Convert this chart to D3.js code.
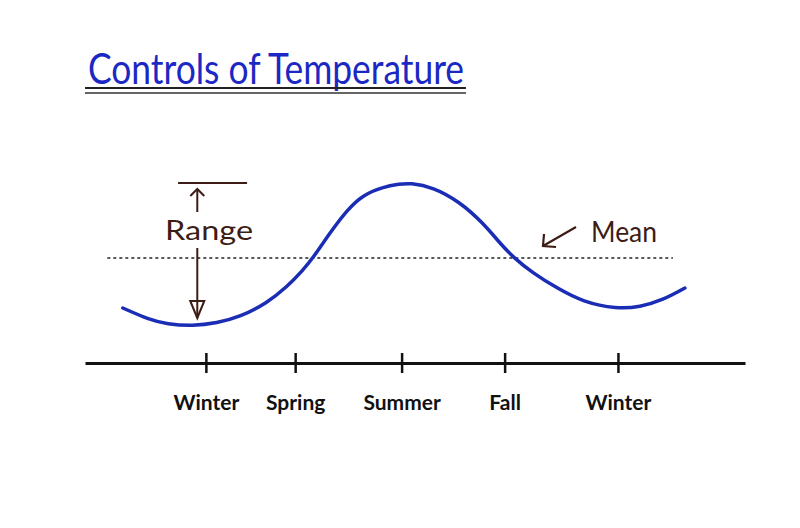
<!DOCTYPE html>
<html><head><meta charset="utf-8">
<script src="https://cdn.jsdelivr.net/npm/d3@7"></script>
<style>body{margin:0;background:#fff}svg{display:block}</style>
</head><body>
<svg id="c" width="800" height="528"></svg>
<script>
// ---- data ----
const seasons = ["Winter", "Spring", "Summer", "Fall", "Winter"];
const seasonMonths = [0, 2.6, 5.7, 8.7, 12];
const curveMonths = [-2.42,-1.63,-1.14,-0.38,0.32,0.99,1.78,2.36,2.83,3.12,3.61,4.11,4.57,5.15,5.65,5.94,6.61,7.40,8.07,8.56,8.94,9.52,10.22,10.98,11.97,12.64,13.31,13.95];
const curveTemps  = [25,19,17,16,17.5,20.5,27.5,35.5,44,50,62.5,74,81.5,85.5,87,87.5,85.5,78,67.5,57.5,50.5,42.5,35,28,24.5,25.5,29,35];
const meanTemp = 50;
const meanSpan = [-2.87, 13.6];
const rangeTop = 87.5, rangeBottom = 16;
const titleText = "Controls of Temperature";

const svg = d3.select("#c");
const x = d3.scaleLinear().domain([-3.52, 15.7]).range([85, 745]);
const y = d3.scaleLinear().domain([0, 100]).range([358, 158]);
const brown = "#3d1c16", blue = "#1a2db4";
const font = "Lato, 'Open Sans', sans-serif";

// title
svg.append("text").attr("x", 88).attr("y", 84)
  .attr("font-family", font).attr("font-size", 42)
  .attr("fill", "#1b28c4").attr("textLength", 376).attr("lengthAdjust", "spacingAndGlyphs")
  .text(titleText);
svg.append("line").attr("x1", 85).attr("x2", 466).attr("y1", 88).attr("y2", 88).attr("stroke", "#222").attr("stroke-width", 2);
svg.append("line").attr("x1", 85).attr("x2", 466).attr("y1", 93).attr("y2", 93).attr("stroke", "#333").attr("stroke-width", 1.3);

// axis
const axis = d3.axisBottom(x).tickValues(seasonMonths)
  .tickFormat((d, i) => seasons[i]).tickSize(10).tickSizeOuter(0).tickPadding(22);
const gA = svg.append("g").attr("transform", "translate(0,363)").call(axis);
gA.select(".domain").attr("stroke", "#111").attr("stroke-width", 3);
gA.selectAll(".tick line").attr("y1", -10).attr("y2", 10).attr("stroke", "#111").attr("stroke-width", 2.5);
gA.selectAll(".tick text").attr("font-size", 21).attr("font-weight", "bold").attr("fill", "#111")
  .attr("font-family", font);

// mean dotted line
svg.append("line").attr("x1", x(meanSpan[0])).attr("x2", x(meanSpan[1]))
  .attr("y1", y(meanTemp)).attr("y2", y(meanTemp))
  .attr("stroke", "#222").attr("stroke-width", 1.6).attr("stroke-dasharray", "3,3");

// curve
const pts = curveMonths.map((m, i) => [m, curveTemps[i]]);
svg.append("path").datum(pts)
  .attr("d", d3.line().x(d => x(d[0])).y(d => y(d[1])).curve(d3.curveBasis))
  .attr("fill", "none").attr("stroke", blue).attr("stroke-width", 3.5).attr("stroke-linecap", "round");

// range annotation
const ax = x(-0.25);
svg.append("line").attr("x1", x(-0.81)).attr("x2", x(1.2)).attr("y1", y(rangeTop)).attr("y2", y(rangeTop))
  .attr("stroke", brown).attr("stroke-width", 2);
svg.append("line").attr("x1", ax).attr("x2", ax).attr("y1", y(rangeTop) + 6).attr("y2", y(rangeTop) + 29)
  .attr("stroke", brown).attr("stroke-width", 2);
svg.append("path").attr("d", `M${ax-7},${y(rangeTop)+13} L${ax},${y(rangeTop)+6} L${ax+7},${y(rangeTop)+13}`)
  .attr("fill", "none").attr("stroke", brown).attr("stroke-width", 2);
svg.append("text").attr("x", 165).attr("y", 240).attr("font-family", font)
  .attr("font-size", 27).attr("fill", brown).attr("textLength", 88).attr("lengthAdjust", "spacingAndGlyphs").text("Range");
svg.append("line").attr("x1", ax).attr("x2", ax).attr("y1", 248).attr("y2", y(rangeBottom) - 8)
  .attr("stroke", brown).attr("stroke-width", 2);
svg.append("path").attr("d", `M${ax-7},${y(rangeBottom)-25} L${ax},${y(rangeBottom)-8} L${ax+7},${y(rangeBottom)-25} Z`)
  .attr("fill", "none").attr("stroke", brown).attr("stroke-width", 2);

// mean annotation
svg.append("line").attr("x1", 576).attr("x2", 543).attr("y1", 227).attr("y2", 246)
  .attr("stroke", brown).attr("stroke-width", 2.2);
svg.append("path").attr("d", "M544,234 L543,246 L556,247").attr("fill", "none")
  .attr("stroke", brown).attr("stroke-width", 2.2);
svg.append("text").attr("x", 591).attr("y", 242).attr("font-family", font)
  .attr("font-size", 28).attr("fill", brown).attr("textLength", 66).attr("lengthAdjust", "spacingAndGlyphs").text("Mean");
</script>
</body></html>
